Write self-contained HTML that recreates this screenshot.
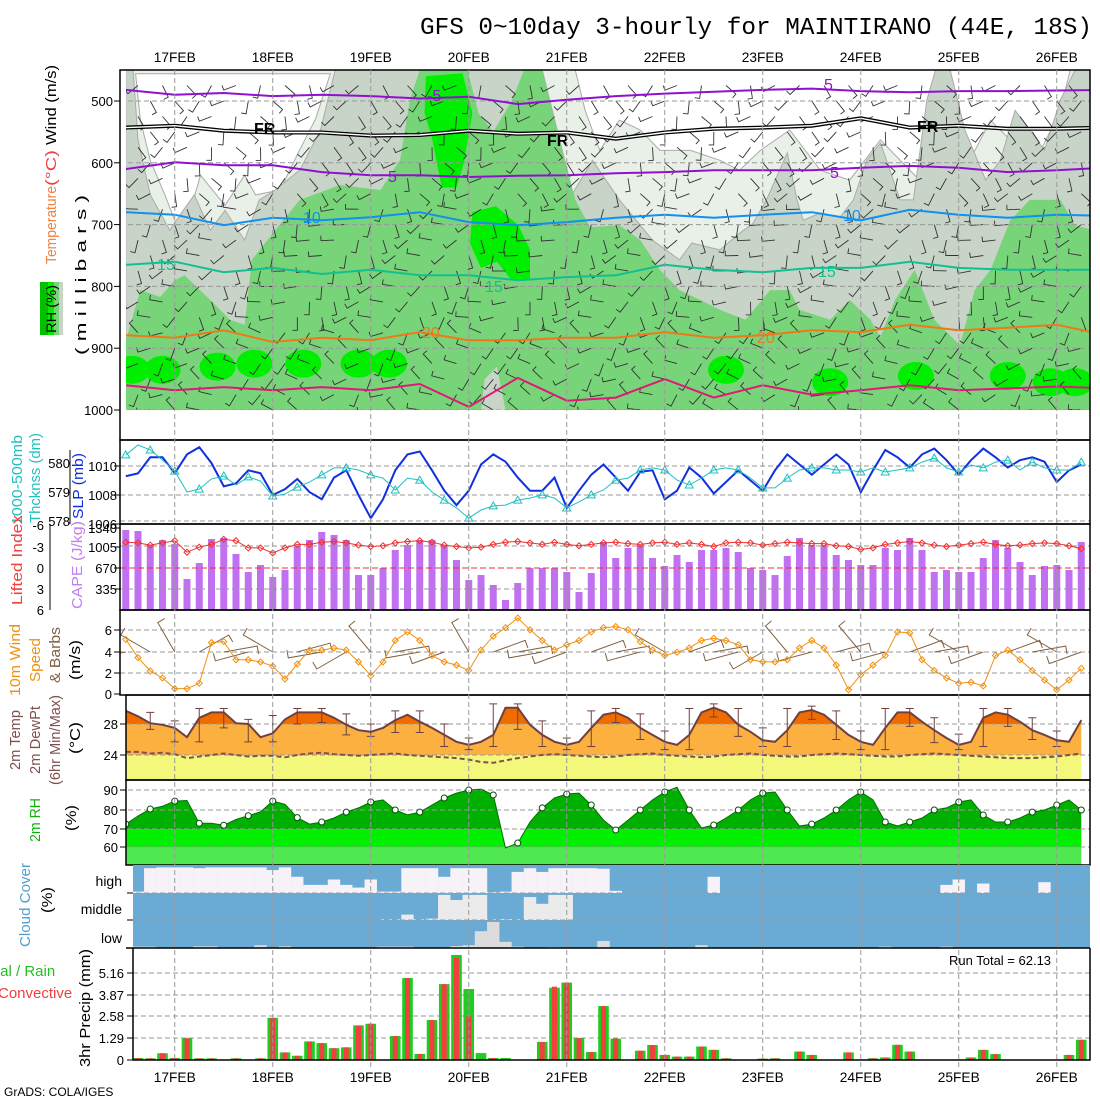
<!DOCTYPE html>
<html><head><meta charset="utf-8"><title>GFS meteogram MAINTIRANO</title>
<style>
html,body{margin:0;padding:0;background:#fff;}
svg{display:block;font-family:"Liberation Sans",sans-serif;}
</style></head>
<body>
<svg id="chart" width="1100" height="1100" viewBox="0 0 1100 1100" xmlns="http://www.w3.org/2000/svg">
<defs>
<clipPath id="cUp"><rect x="126" y="70" width="964" height="340"/></clipPath>
<clipPath id="cP2"><rect x="120" y="440" width="970" height="84"/></clipPath>
<clipPath id="cP3"><rect x="120" y="524" width="970" height="86"/></clipPath>
<clipPath id="cP4"><rect x="120" y="610" width="970" height="85"/></clipPath>
<clipPath id="cP5"><rect x="126" y="695" width="964" height="85"/></clipPath>
<clipPath id="cP6"><rect x="126" y="780" width="964" height="85"/></clipPath>
<clipPath id="cP7"><rect x="133" y="865" width="957" height="83"/></clipPath>
<clipPath id="cP8"><rect x="133" y="948" width="957" height="112"/></clipPath>
</defs>
<rect x="0" y="0" width="1100" height="1100" fill="#fff"/>
<text x="420" y="34" font-family="Liberation Mono, monospace" font-size="24" textLength="672" lengthAdjust="spacingAndGlyphs">GFS 0~10day 3-hourly for MAINTIRANO (44E, 18S)</text>
<g id="gUp"></g>
<g id="gP2"></g>
<g id="gP3"></g>
<g id="gP4"></g>
<g id="gP5"></g>
<g id="gP6"></g>
<g id="gP7"></g>
<g id="gP8"></g>
<g id="gGrid"></g>
<g id="gAxes"></g>
<text x="4" y="1096" font-size="12">GrADS: COLA/IGES</text>
<text x="949" y="965" font-size="13">Run Total = 62.13</text>
</svg>
<script>
// ---------- data ----------
const dates = ["17FEB","18FEB","19FEB","20FEB","21FEB","22FEB","23FEB","24FEB","25FEB","26FEB"];
const slp = [1009.3,1009.5,1010.6,1010.6,1009.5,1010.8,1011.3,1010.2,1008.6,1008.8,1009.7,1009.5,1008.0,1008.4,1009.1,
1008.2,1007.7,1009.2,1009.7,1008.0,1006.4,1007.7,1009.7,1010.8,1011.0,
1009.7,1008.3,1007.3,1008.3,1010.1,1010.8,1010.3,1009.2,1008.3,1008.3,
1009.2,1007.1,1008.3,1009.4,1010.1,1009.2,1008.3,1009.6,1009.7,1007.7,
1008.3,1009.9,1009.2,1008.1,1008.9,1009.7,1009.0,1008.3,1009.7,1010.8,
1010.1,1009.4,1010.1,1010.8,1010.1,1008.2,1009.7,1011.1,1010.6,1009.9,
1010.8,1011.2,1010.4,1009.4,1010.4,1011.2,1010.6,1009.9,1010.4,1010.6,
1010.3,1008.9,1009.7,1010.1];
const thick = [580.28,580.62,580.45,580.1,579.72,579.0,579.1,579.45,579.55,579.24,579.52,579.38,578.86,578.93,579.17,
579.34,579.59,579.83,579.83,579.76,579.59,579.48,579.07,579.48,579.41,
579.0,578.72,578.45,578.1,578.38,578.52,578.55,578.72,578.79,578.9,
578.79,578.45,578.66,578.9,579.07,579.41,579.48,579.76,579.83,579.76,
579.41,579.24,579.48,579.76,579.83,579.76,579.48,579.14,579.14,579.48,
579.76,579.83,579.83,579.76,579.76,579.69,579.83,579.69,579.76,579.83,
580.03,580.17,579.83,579.69,579.93,579.83,580.03,580.1,579.76,580.03,
579.83,579.76,579.76,580.03];
const cape = [1246,1231,1013,1090,1028,483,732,1106,1122,873,592,701,514,623,997,
1091,1215,1169,1091,545,545,654,935,1013,1091,
1091,1013,779,467,545,390,156,421,654,654,
654,592,280,576,1060,810,966,1013,810,686,
857,748,935,935,966,904,654,623,545,841,
1122,1013,1013,857,779,701,701,966,935,1122,
935,592,623,592,592,810,1091,966,748,545,
686,701,623,1060];
const lifted = [-3.6,-3.5,-3.2,-3.5,-3.8,-2.2,-2.9,-3.3,-4.0,-3.8,-2.8,-2.8,-2.1,-2.8,-3.3,
-3.3,-3.6,-3.7,-3.5,-3.2,-3.0,-3.1,-3.5,-3.7,-3.8,
-3.6,-3.2,-3.0,-2.8,-2.9,-3.3,-3.6,-3.7,-3.5,-3.3,
-3.6,-3.3,-3.1,-3.3,-3.5,-3.6,-3.4,-3.3,-3.5,-3.6,
-3.3,-3.5,-3.3,-3.0,-3.5,-3.6,-3.5,-3.2,-3.4,-3.6,
-3.5,-3.4,-3.4,-3.1,-3.0,-2.6,-2.8,-3.3,-3.5,-3.7,
-3.5,-3.2,-3.0,-3.2,-3.4,-3.6,-3.3,-3.1,-3.2,-3.4,
-3.5,-3.4,-3.1,-2.7];
const wind10 = [5.1,3.4,2.15,1.5,0.5,0.5,1.0,4.8,4.9,3.2,3.2,3.0,2.6,1.4,2.8,
4.1,4.1,4.3,4.1,3.0,1.7,3.0,5.0,5.8,5.0,
3.6,3.0,2.7,2.2,4.1,5.4,6.2,7.1,6.0,5.0,
4.1,4.6,5.0,5.8,6.2,6.3,6.0,4.9,4.1,3.6,
3.9,4.3,5.0,5.2,5.0,4.6,3.2,3.0,3.0,3.2,
4.3,5.0,4.3,2.7,0.4,1.8,2.7,3.6,5.8,5.7,
3.2,2.2,1.5,1.0,1.1,0.75,3.6,4.1,3.2,2.2,
1.3,0.4,1.3,2.4];
const windDir = [260,255,300,320,330,250,60,75,80,250,255,265,300,70,75,
80,260,250,240,300,320,70,80,75,260,
255,250,240,330,320,70,75,80,85,260,
255,250,265,70,75,80,260,255,250,300,
320,70,75,80,260,255,250,240,330,320,
260,255,70,75,300,320,250,255,260,70,
75,80,260,300,320,250,255,70,75,80,
260,300,320,250];
const temp2m = [29.7,29.0,28.1,27.9,27.5,26.3,28.8,29.5,29.5,28.1,28.0,26.3,26.8,28.6,
29.5,29.5,29.5,28.8,27.9,27.2,27.0,27.5,28.5,29.2,
28.3,27.5,26.6,25.7,25.3,25.7,26.6,30.1,30.1,27.9,
26.6,25.7,25.3,25.7,27.5,29.2,29.5,28.8,27.5,26.6,
25.7,25.3,26.6,29.5,30.1,29.5,27.9,27.0,25.9,25.7,
27.2,29.5,29.8,29.2,27.9,26.6,25.7,25.3,27.5,29.5,
29.5,28.3,27.2,26.2,25.3,25.7,28.8,29.5,29.2,28.3,
27.2,26.6,25.9,25.7,28.5];
const dew2m = [24.4,24.4,24.2,24.3,24.1,23.6,23.8,24.0,24.2,24.0,23.8,23.9,23.9,23.7,24.0,24.2,24.3,24.1,24.0,23.9,
24.0,24.1,24.2,24.0,23.9,23.8,23.7,23.6,23.4,23.1,
23.0,23.3,23.6,23.8,24.0,24.1,24.0,23.9,23.8,23.7,
23.8,24.0,24.1,24.2,24.0,23.9,23.8,23.7,23.8,24.0,
24.1,24.2,24.0,23.9,23.8,23.8,24.0,24.1,24.2,24.1,
24.0,23.9,23.8,23.8,24.0,24.1,24.2,24.1,24.0,23.9,
23.8,23.7,23.6,23.6,23.6,23.7,23.8,24.0,24.2];
const rh2m = [72.6,76.8,80.5,82,84.7,85,73,73,72,75,77,79,84.7,83,76,
72.6,73.7,75.8,78.9,81.1,84.2,85.3,80,77.4,78.9,
82.6,86.3,88.9,90.5,91,87.9,60,62.6,73.7,81.1,
86.3,88.4,88.9,82.6,74.7,69.5,74.7,80,85.3,89.5,
92,80,70.5,72.1,75.8,80,85.3,88.9,89.5,80,
71.6,72.6,75.8,80,85.3,89.5,85.3,73.7,71.6,73.7,
75.8,80,81.1,84.2,85.3,77.4,73.7,73.7,75.8,78.9,
80,82.6,85.3,80];
const highClear = [0,0.05,0.92,0.95,0.95,0.95,0.92,0.95,0.95,0.95,0.95,0.95,0.85,0.95,0.6,0.3,0.3,0.5,0.3,0.2,
0.5,0.05,0.05,0.92,0.92,0.92,0.6,0.92,0.92,0.92,
0.03,0.05,0.78,0.92,0.78,0.92,0.92,0.92,0.92,0.9,
0.08,0,0,0,0,0,0,0,0.6,0,
0,0,0,0,0,0,0,0,0,0,
0,0,0,0,0,0,0,0.3,0.5,0,
0.35,0,0,0,0,0.4,0,0,0];
const midClear = [0,0,0,0,0,0,0,0,0,0,0,0,0,0,0,0,0,0,0,0,
0,0.02,0.02,0.2,0.02,0.05,0.93,0.74,0.93,0.93,
0.02,0.03,0.02,0.85,0.6,0.93,0.93,0,0,0,
0,0,0,0,0,0,0,0,0,0,
0,0,0,0,0,0,0,0,0,0,
0,0,0,0,0,0,0,0,0,0,
0,0,0,0,0,0,0,0,0];
const lowClear = [0,0.05,0.05,0,0,0,0.06,0.06,0,0,0,0.1,0,0.06,0,0,0,0,0,0,
0,0.05,0.05,0.05,0,0,0,0.07,0.1,0.6,
0.93,0.22,0.05,0,0,0.03,0,0,0,0.25,
0,0,0,0,0,0,0,0.1,0,0,
0,0,0,0,0,0,0,0,0,0,
0,0,0.05,0,0,0,0,0.05,0,0,
0,0,0,0,0,0,0,0,0];
const precipTotal = [0,0.12,0.1,0.4,0.12,1.29,0.1,0.1,0,0.1,0,0.1,2.5,0.45,0.25,1.1,1.0,0.7,0.75,2.05,
2.15,0,1.42,4.86,0.36,2.37,4.5,6.23,4.21,0.41,
0.12,0.12,0,0,1.07,4.29,4.59,1.3,0.47,3.2,
1.27,0,0.55,0.89,0.3,0.2,0.2,0.8,0.6,0.1,
0,0,0.08,0.1,0,0.5,0.3,0,0,0.45,
0,0.1,0.15,0.9,0.5,0,0,0,0,0.15,
0.6,0.35,0,0,0,0,0,0.3,1.2];
const precipConv = [0,0.12,0.1,0.4,0.12,1.29,0.1,0.1,0,0.1,0,0.1,2.5,0.45,0.25,1.1,1.0,0.7,0.75,2.05,
2.15,0,1.42,4.86,0.36,2.37,4.5,6.05,2.6,0,
0.12,0,0,0,1.07,4.35,4.59,1.3,0.47,3.2,
1.27,0,0.55,0.89,0.3,0.2,0.2,0.8,0.6,0.1,
0,0,0.08,0.1,0,0.5,0.3,0,0,0.45,
0,0.1,0.15,0.9,0.5,0,0,0,0,0.15,
0.6,0.35,0,0,0,0,0,0.3,1.2];
const contourTimes = [0,4,8,12,16,20,24,28,32,36,40,44,48,52,56,60,64,68,72,76,80];
const contourM5 = [482,490,487,492,490,492,496,493,505,498,492,488,485,482,480,484,486,484,484,483,482];
const contourFR = [543,540,548,551,551,556,555,548,553,551,561,551,545,543,540,528,543,540,545,545,543];
const contourP5 = [610,599,604,604,615,620,620,623,621,620,617,615,612,612,612,608,605,608,615,612,608];
const contourP10 = [680,684,701,689,693,688,680,696,701,696,689,684,689,684,680,693,676,684,689,684,686];
const contourP15 = [765,760,777,770,780,773,782,782,790,785,782,765,773,777,770,770,760,770,773,773,773];
const contourP20 = [879,883,871,890,883,887,874,887,887,883,883,874,883,879,871,874,862,871,867,862,879];
const contourP25 = [960,968,963,968,963,968,958,995,948,985,980,950,980,960,975,968,960,968,965,962,965];
const grayT = [0,0.6,1.0,2.0,3.6,4.4,5.6,6.9,8.1,9.7,10.9,12.2,14.2,15.9,16.7,17.1,34.0,36.5,38.1,40.3,43.0,45.2,46.2,48.5,50.1,51.2,52.3,54.0,54.8,55.3,56.7,58.3,59.4,60.5,61.6,62.1,63.2,64.3,65.4,66.1,67.3,68.5,70.2,71.4,72.6,73.8,75.0,76.3,77.5,79,79,0];
const grayP = [450,450,563,652,709,685,652,709,677,725,660,644,612,547,482,450,450,649,596,660,725,757,730,741,714,698,660,584,660,693,681,688,660,596,568,596,660,660,498,450,450,547,628,596,515,547,580,498,450,450,1000,1000];
const greenT = [0,1.2,2.8,4,4.8,6.9,8.5,9.7,10.3,12.2,14.2,17.5,20.8,22.4,23.2,24,34,35,36.7,37.9,40.3,42,43.6,45.2,46.9,48.5,50.6,52.6,54.2,55,57.5,59.1,60.8,61.6,62.8,64.4,66,68.1,69.3,70.6,72.2,73.8,76.3,77.5,79,79,0];
const greenP = [887,806,817,790,782,822,854,862,757,709,660,636,644,595,498,450,450,531,660,704,701,725,773,806,822,838,854,806,806,838,854,822,854,882,822,773,854,895,806,773,693,660,660,701,709,1000,1000];
const whiteLT = [0.8,16.7,15.5,14.2,12.6,10.6,9.7,8.1,6.1,4.8,4.0,3.2,2.0,1.2];
const whiteLP = [456,456,529,579,644,652,620,669,620,710,693,652,596,531];
const whiteRT = [36.7,77.1,76.3,74.7,72.2,70.6,68.9,67.3,64.8,61.6,59.1,56.7,54.2,51.8,50.1,48.5,46.1,43.6,42.0,40.3,38.7,37.5];
const whiteRP = [450,450,515,580,563,531,596,628,628,563,628,612,547,580,612,596,580,580,547,531,580,515];
const brightAT = [24.5,27.5,28.3,27.6,27,25.8,25,24.4];
const brightAP = [460,455,520,600,640,640,560,520];
const brightBT = [28.3,30.2,32,33,33,31.5,30.3,29,28.1];
const brightBP = [680,670,700,740,790,790,760,770,730];
const blobT = [0.5,3,7.5,10.5,14.5,19,21.5,49,57.5,64.5,72,75.5,77.5];
const blobP = [935,935,930,925,925,925,925,935,955,945,945,955,955];

// ---------- helpers ----------
const NS='http://www.w3.org/2000/svg';
function mk(tag,attrs,parent){const e=document.createElementNS(NS,tag);for(const k in attrs)e.setAttribute(k,attrs[k]);parent.appendChild(e);return e;}
const X = i => 125.75 + 12.25*i;
const Yp = p => 101 + (p-500)*0.618;
const gUp=document.getElementById('gUp'),gP2=document.getElementById('gP2'),gP3=document.getElementById('gP3'),gP4=document.getElementById('gP4'),gP5=document.getElementById('gP5'),gP6=document.getElementById('gP6'),gP7=document.getElementById('gP7'),gP8=document.getElementById('gP8'),gGrid=document.getElementById('gGrid'),gAxes=document.getElementById('gAxes');
function pts(ts,ps){return ts.map((t,k)=>X(t).toFixed(1)+','+Yp(ps[k]).toFixed(1)).join(' ');}
function linePts(vals,fy){return vals.map((v,i)=>X(i).toFixed(1)+','+fy(v).toFixed(1)).join(' ');}
function hgrid(parent,y,x1,x2){const e=mk('line',{x1:x1,x2:x2,y1:y,y2:y,stroke:'#999','stroke-dasharray':'5,3','stroke-width':1},parent);}
function label(parent,x,y,s,attrs,name){const e=mk('text',Object.assign({x:x,y:y,'font-size':13},attrs||{}),parent);e.textContent=s;return e;}
function tick(x,y){const e=mk('line',{x1:x-6,x2:x,y1:y,y2:y,stroke:'#000'},gAxes);}

// ---------- upper air panel ----------
const up=mk('g',{'clip-path':'url(#cUp)'},gUp);


let e=mk('rect',{x:120,y:70,width:970,height:340,fill:'#e8f0e8'},up);


e=mk('polygon',{points:pts(whiteLT,whiteLP),fill:'#fff',stroke:'#aaa','stroke-width':1},up);


e=mk('polygon',{points:pts(whiteRT,whiteRP),fill:'#fff',stroke:'#aaa','stroke-width':1},up);


e=mk('polygon',{points:pts(grayT,grayP),fill:'#c8d4c8',stroke:'#aaa','stroke-width':1},up);


e=mk('polygon',{points:pts(greenT,greenP),fill:'#78d478'},up);


e=mk('polygon',{points:pts([27.9,32.5,31.5,30,28.8],[450,450,500,550,520]),fill:'#c8d4c8'},up);


e=mk('polygon',{points:pts([29,29.3,30.3,31],[1000,950,930,1000]),fill:'#c8d4c8'},up);


e=mk('polygon',{points:pts(brightAT,brightAP),fill:'#00ee00'},up);


e=mk('polygon',{points:pts(brightBT,brightBP),fill:'#00ee00'},up);


blobT.forEach((t,k)=>{
  const b=mk('ellipse',{cx:X(t),cy:Yp(blobP[k]),rx:18,ry:14,fill:'#00ee00'},up);
  
  
});
// wind barbs (sparser)
let row=0;
for(let p=475;p<=1000;p+=25){
  for(let i=1+(row%2);i<79;i+=2){
    const a=(180+ (p>850?80:p>650?40:10) + 60*Math.sin(i*0.7+p*0.03))*Math.PI/180;
    const x0=X(i),y0=Yp(p),x1=x0+13*Math.sin(a),y1=y0-13*Math.cos(a);
    const bb=mk('path',{d:`M${x0.toFixed(1)},${y0.toFixed(1)}L${x1.toFixed(1)},${y1.toFixed(1)}l${(5*Math.cos(a)).toFixed(1)},${(5*Math.sin(a)).toFixed(1)}`,stroke:'#333',fill:'none','stroke-width':0.9},up);
    
    
  }
  row++;
}
[500,600,700,800,900,1000].forEach(p=>hgrid(up,Yp(p),120,1090));
function contour(vals,color,name,w,dbl){
  const d=contourTimes.map((t,k)=>X(t).toFixed(1)+','+Yp(vals[k]).toFixed(1)).join(' ');
  if(dbl){const c0=mk('polyline',{points:d,fill:'none',stroke:'#000','stroke-width':4},up);
    const c1=mk('polyline',{points:d,fill:'none',stroke:'#fff','stroke-width':1.4},up);return;}
  const c=mk('polyline',{points:d,fill:'none',stroke:color,'stroke-width':w||2},up);
  
  
}
contour(contourM5,'#9010d0','contour-minus5');
contour(contourFR,'#000','contour-freezing',2,true);
contour(contourP5,'#9010d0','contour-5');
contour(contourP10,'#1090f0','contour-10');
contour(contourP15,'#10c090','contour-15');
contour(contourP20,'#f07818','contour-20');
contour(contourP25,'#e01878','contour-25');
[[435,101,'-5','#9010d0'],[832,90,'5','#9010d0'],[262,134,'FR','#000'],[555,146,'FR','#000'],[925,132,'FR','#000'],[396,182,'5','#9010d0'],[838,178,'5','#9010d0'],[311,223,'10','#1090f0'],[851,221,'10','#1090f0'],[165,270,'15','#10c090'],[493,292,'15','#10c090'],[826,277,'15','#10c090'],[430,338,'20','#f07818'],[765,343,'20','#f07818']].forEach(l=>{
  label(up,l[0]-8,l[1],l[2],{fill:l[3],'font-size':16,'font-weight':l[2]=='FR'?'bold':'normal'},'contour-label');
});
e=mk('rect',{x:120,y:70,width:970,height:370,fill:'none',stroke:'#000','stroke-width':1.5},gUp);


[500,600,700,800,900,1000].forEach(p=>{tick(120,Yp(p));label(gAxes,113,Yp(p)+5,String(p),{'text-anchor':'end'});});

// ---------- panel 2 ----------
const ySlp=v=>466+(1010-v)*14.5, yTh=v=>463+(580-v)*29;
const p2=mk('g',{'clip-path':'url(#cP2)'},gP2);


[466,495,521].forEach(y=>hgrid(p2,y,120,1090));
e=mk('polyline',{points:linePts(slp,ySlp),fill:'none',stroke:'#1030e0','stroke-width':2},p2);


e=mk('polyline',{points:linePts(thick,yTh),fill:'none',stroke:'#20c0c0','stroke-width':1},p2);


thick.forEach((v,i)=>{if(i%2)return;const x=X(i),y=yTh(v);
  const m=mk('path',{d:`M${x},${y-4}L${x+4},${y+3}L${x-4},${y+3}Z`,fill:'none',stroke:'#20c0c0'},p2);
  
  });
e=mk('rect',{x:120,y:440,width:970,height:84,fill:'none',stroke:'#000','stroke-width':1.5},gP2);


[[580,463],[579,492],[578,521]].forEach(t=>label(gAxes,70,t[1]+5,String(t[0]),{'text-anchor':'end'}));
[[1010,466],[1008,495],[1006,524]].forEach(t=>{tick(120,t[1]);label(gAxes,117,t[1]+5,String(t[0]),{'text-anchor':'end'});});
e=mk('line',{x1:70,x2:70,y1:450,y2:524,stroke:'#000'},gAxes);



// ---------- panel 3 ----------
const yCape=v=>610-v*86/1340, yLi=v=>568+v*21.5/3;
const p3=mk('g',{'clip-path':'url(#cP3)'},gP3);


cape.forEach((v,i)=>{const b=mk('rect',{x:X(i)-3.5,y:yCape(v),width:7,height:610-yCape(v),fill:'#c070f0'},p3);
  
  });
[546,589].forEach(y=>hgrid(p3,y,120,1090));
e=mk('line',{x1:120,x2:1090,y1:568,y2:568,stroke:'#f03030','stroke-dasharray':'6,3'},p3);


e=mk('polyline',{points:linePts(lifted,yLi),fill:'none',stroke:'#f03030','stroke-width':1},p3);


lifted.forEach((v,i)=>{const x=X(i),y=yLi(v);const m=mk('path',{d:`M${x},${y-3}L${x+3},${y}L${x},${y+3}L${x-3},${y}Z`,fill:'none',stroke:'#f03030'},p3);
  
  });
e=mk('rect',{x:120,y:524,width:970,height:86,fill:'none',stroke:'#000','stroke-width':1.5},gP3);


[[-6,525],[-3,547],[0,568],[3,589],[6,610]].forEach(t=>label(gAxes,44,t[1]+5,String(t[0]),{'text-anchor':'end'}));
e=mk('line',{x1:50,x2:50,y1:524,y2:610,stroke:'#000'},gAxes);


[[1340,528],[1005,547],[670,568],[335,589]].forEach(t=>{tick(120,t[1]);label(gAxes,117,t[1]+5,String(t[0]),{'text-anchor':'end'});});

// ---------- panel 4 ----------
const yW=v=>694-v*10.7;
const p4=mk('g',{'clip-path':'url(#cP4)'},gP4);


[630,652,673].forEach(y=>hgrid(p4,y,120,1090));
windDir.forEach((d,i)=>{if(i%2)return;const a=d*Math.PI/180,x0=X(i),y0=652,len=34;const x1=x0+len*Math.sin(a),y1=y0-len*Math.cos(a);
  const b=mk('path',{d:`M${x0},${y0}L${x1.toFixed(1)},${y1.toFixed(1)}l${(8*Math.cos(a)).toFixed(1)},${(8*Math.sin(a)).toFixed(1)}`,stroke:'#806040',fill:'none','stroke-width':1},p4);
  
  });
e=mk('polyline',{points:linePts(wind10,yW),fill:'none',stroke:'#f09010','stroke-width':1},p4);


wind10.forEach((v,i)=>{const x=X(i),y=yW(v);const m=mk('path',{d:`M${x},${y-3}L${x+3},${y}L${x},${y+3}L${x-3},${y}Z`,fill:'none',stroke:'#f09010'},p4);
  
  });
e=mk('rect',{x:120,y:610,width:970,height:85,fill:'none',stroke:'#000','stroke-width':1.5},gP4);


[[6,630],[4,652],[2,673],[0,694]].forEach(t=>{tick(120,t[1]);label(gAxes,112,t[1]+5,String(t[0]),{'text-anchor':'end'});});

// ---------- panel 5 ----------
const yT=v=>724-(v-28)*7.75;
const p5=mk('g',{'clip-path':'url(#cP5)'},gP5);


const tArea='M'+X(0)+',780L'+linePts(temp2m,yT).split(' ').join('L')+'L'+X(78)+',780Z';
const tcp=mk('clipPath',{id:'tAreaClip'},document.querySelector('defs'));
mk('path',{d:tArea},tcp);
const tg=mk('g',{'clip-path':'url(#tAreaClip)'},p5);


[[695,724,'#f06c00'],[724,755,'#fbb040'],[755,780,'#f4f87a']].forEach(b=>{const r=mk('rect',{x:120,y:b[0],width:970,height:b[1]-b[0],fill:b[2]},tg);});
[724,755].forEach(y=>hgrid(p5,y,120,1090));
e=mk('polyline',{points:linePts(dew2m,yT),fill:'none',stroke:'#805050','stroke-width':2,'stroke-dasharray':'5,3'},p5);


e=mk('polyline',{points:linePts(temp2m,yT),fill:'none',stroke:'#704040','stroke-width':2},p5);


temp2m.forEach((v,i)=>{if(i%2||i==0||i>=78)return;const lo=Math.min(temp2m[i-1],v,temp2m[i+1])-0.6,hi=Math.max(temp2m[i-1],v,temp2m[i+1])+0.5;const x=X(i);
  const m=mk('path',{d:`M${x},${yT(hi)}L${x},${yT(lo)}M${x-4},${yT(hi)}h8M${x-4},${yT(lo)}h8`,stroke:'#704040',fill:'none'},p5);
  
  });
e=mk('rect',{x:126,y:695,width:964,height:85,fill:'none',stroke:'#000','stroke-width':1.5},gP5);


[[28,724],[24,755]].forEach(t=>{tick(126,t[1]);label(gAxes,118,t[1]+5,String(t[0]),{'text-anchor':'end'});});

// ---------- panel 6 ----------
const yR=v=>829-(v-70)*1.9;
const p6=mk('g',{'clip-path':'url(#cP6)'},gP6);


const rArea='M'+X(0)+',865L'+linePts(rh2m,yR).split(' ').join('L')+'L'+X(78)+',865Z';
const rcp=mk('clipPath',{id:'rAreaClip'},document.querySelector('defs'));
mk('path',{d:rArea},rcp);
const rg=mk('g',{'clip-path':'url(#rAreaClip)'},p6);


[[780,829,'#00b000'],[829,847,'#00f000'],[847,865,'#50e850']].forEach(b=>{const r=mk('rect',{x:120,y:b[0],width:970,height:b[1]-b[0],fill:b[2]},rg);});
[790,810,829,847].forEach(y=>hgrid(p6,y,120,1090));
e=mk('polyline',{points:linePts(rh2m,yR),fill:'none',stroke:'#007000','stroke-width':1},p6);


rh2m.forEach((v,i)=>{if(i%2)return;const c=mk('circle',{cx:X(i),cy:yR(v),r:3,fill:'#fff',stroke:'#005000'},p6);
  
  });
e=mk('rect',{x:126,y:780,width:964,height:85,fill:'none',stroke:'#000','stroke-width':1.5},gP6);


[[90,790],[80,810],[70,829],[60,847]].forEach(t=>{tick(126,t[1]);label(gAxes,118,t[1]+5,String(t[0]),{'text-anchor':'end'});});

// ---------- panel 7 ----------
const p7=mk('g',{'clip-path':'url(#cP7)'},gP7);


e=mk('rect',{x:120,y:865,width:970,height:83,fill:'#6aabd6'},p7);


[[highClear,893,27,'#f6f2f8','high-cloud-clear'],[midClear,920,27,'#ebebeb','middle-cloud-clear'],[lowClear,948,28,'#dcdcdc','low-cloud-clear']].forEach(r0=>{
  r0[0].forEach((v,i)=>{if(v<=0)return;const h=v*r0[2];const r=mk('rect',{x:X(i)-6.2,y:r0[1]-h,width:12.4,height:h,fill:r0[3]},p7);
    
    });
});
[893,920].forEach(y=>hgrid(p7,y,120,1090));
e=mk('line',{x1:126,x2:1090,y1:948,y2:948,stroke:'#000','stroke-width':1.5},gP7);


[['high',886],['middle',914],['low',943]].forEach(t=>{label(gAxes,122,t[1],t[0],{'text-anchor':'end','font-size':14},'cloud-level-label');});
[893,920,948].forEach(y=>tick(133,y));

// ---------- panel 8 ----------
const yPr=v=>1060-v*16.86;
const p8=mk('g',{'clip-path':'url(#cP8)'},gP8);


[973,995,1016,1038].forEach(y=>hgrid(p8,y,133,1090));
precipTotal.forEach((v,i)=>{if(v<=0)return;const r=mk('rect',{x:X(i)-5.3,y:yPr(v),width:10.6,height:1060-yPr(v),fill:'#20cc20'},p8);
  
  });
precipConv.forEach((v,i)=>{if(v<=0)return;const r=mk('rect',{x:X(i)-2.5,y:yPr(v),width:5,height:1060-yPr(v),fill:'#f04040'},p8);
  
  });
e=mk('path',{d:'M133,948V1060H1090V948',fill:'none',stroke:'#000','stroke-width':1.5},gP8);


[['5.16',973],['3.87',995],['2.58',1016],['1.29',1038],['0',1060]].forEach(t=>{tick(133,t[1]);label(gAxes,124,t[1]+5,t[0],{'text-anchor':'end'});});

// ---------- date grid & labels ----------
dates.forEach((d,k)=>{const x=X(4+8*k);
  const ln=mk('line',{x1:x,x2:x,y1:70,y2:1068,stroke:'#999','stroke-dasharray':'5,3'},gGrid);
  
  
  label(gAxes,x,62,d,{'text-anchor':'middle','font-size':14,textLength:42,lengthAdjust:'spacingAndGlyphs'},'top-date-label');
  label(gAxes,x,1082,d,{'text-anchor':'middle','font-size':14,textLength:42,lengthAdjust:'spacingAndGlyphs'},'bottom-date-label');
});

// ---------- axis titles ----------
function vtitle(x,yc,s,color,size,name,len){const t=mk('text',{x:0,y:0,transform:`translate(${x},${yc}) rotate(-90)`,'text-anchor':'middle','font-size':size||15,fill:color},gAxes);t.textContent=s;if(len){t.setAttribute('textLength',len);t.setAttribute('lengthAdjust','spacingAndGlyphs');}
  
  }
vtitle(56,105,'Wind (m/s)','#000',15,'wind-title',80);
vtitle(56,168,'(°C)','#f04040',15,'temp-unit-title',36);
vtitle(56,225,'Temperature','#f08040',15,'temperature-title',78);
vtitle(86,275,'( m i l l i b a r s )','#000',15,'pressure-axis-title',160);
e=mk('rect',{x:40,y:282,width:8,height:53,fill:'#00c000'},gAxes);
e=mk('rect',{x:48,y:282,width:6,height:53,fill:'#00ee00'},gAxes);
e=mk('rect',{x:54,y:282,width:5,height:53,fill:'#78d478'},gAxes);
e=mk('rect',{x:59,y:282,width:4,height:53,fill:'#c8d4c8'},gAxes);
vtitle(56,309,'RH (%)','#000',14,'rh-legend-title',48);
vtitle(22,480,'1000-500mb','#20c0c0',15,'thickness-title',90);
vtitle(40,478,'Thcknss (dm)','#20c0c0',15,'thickness-unit-title',90);
vtitle(83,486,'SLP (mb)','#1030e0',15,'slp-title',66);
vtitle(22,560,'Lifted Index','#f04040',15,'li-title',90);
vtitle(82,565,'CAPE (J/kg)','#c080f0',15,'cape-title',88);
vtitle(20,660,'10m Wind','#f09010',15,'wind10-title',72);
vtitle(40,660,'Speed','#f09010',15,'speed-title',44);
vtitle(60,655,'& Barbs','#806040',15,'barbs-title',56);
vtitle(80,660,'(m/s)','#000',15,'wind-unit-title',40);
vtitle(20,740,'2m Temp','#805050',15,'temp2m-title',60);
vtitle(40,740,'2m DewPt','#805050',15,'dewpt-title',68);
vtitle(60,740,'(6hr Min/Max)','#805050',15,'minmax-title',90);
vtitle(80,738,'(°C)','#000',15,'temp-unit-title2',32);
vtitle(40,820,'2m RH','#10b010',15,'rh2m-title',44);
vtitle(76,818,'(%)','#000',15,'rh-unit-title',26);
vtitle(30,905,'Cloud Cover','#50a0d0',15,'cloud-title',84);
vtitle(52,900,'(%)','#000',15,'cloud-unit-title',26);
vtitle(90,1008,'3hr Precip (mm)','#000',15,'precip-title',118);
label(gAxes,-4,976,'tal / Rain',{fill:'#20c020','font-size':15},'precip-total-legend');
label(gAxes,-2,998,'Convective',{fill:'#f04040','font-size':15},'precip-conv-legend');
</script>
</body></html>
